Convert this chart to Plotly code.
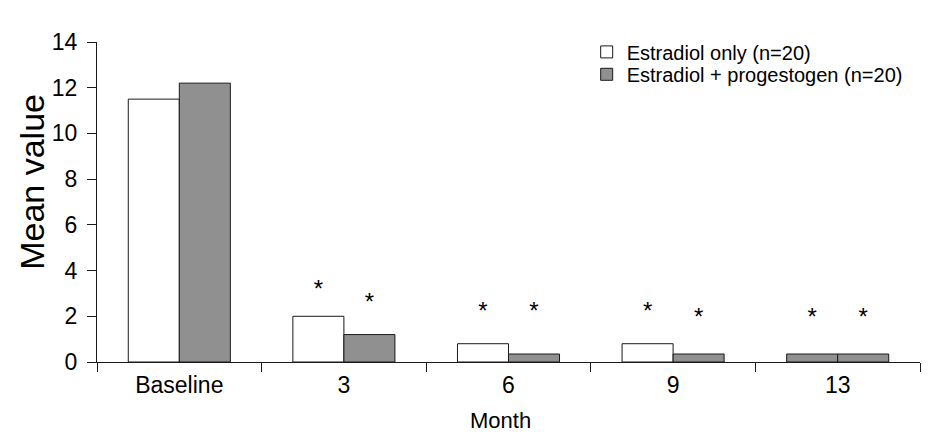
import plotly.graph_objects as go

months = ["Baseline", "3", "6", "9", "13"]
estradiol_only = [11.5, 2.0, 0.8, 0.8, 0.35]
estradiol_progestogen = [12.2, 1.2, 0.35, 0.35, 0.35]
star_y_only = [None, 3.09, 2.15, 2.15, 1.88]
star_y_prog = [None, 2.55, 2.15, 1.88, 1.88]
y_ticks = [0, 2, 4, 6, 8, 10, 12, 14]

FONT = "Liberation Sans, Arial, sans-serif"
GRAY = "#909090"
EDGE = "#1a1a1a"

white_colors = ["white"] * (len(months) - 1) + [GRAY]

fig = go.Figure()
fig.add_trace(go.Bar(
    x=months, y=estradiol_only, name="Estradiol only (n=20)",
    marker=dict(color=white_colors, line=dict(color=EDGE, width=1)),
    legend="legend",
))
fig.add_trace(go.Bar(
    x=months, y=estradiol_progestogen, name="Estradiol + progestogen (n=20)",
    marker=dict(color=GRAY, line=dict(color=EDGE, width=1)),
    legend="legend2",
))

half = (1 - 0.38) / 4
sx, sy = [], []
for i in range(len(months)):
    if star_y_only[i] is not None:
        sx.append(i - half); sy.append(star_y_only[i])
    if star_y_prog[i] is not None:
        sx.append(i + half); sy.append(star_y_prog[i])
fig.add_trace(go.Scatter(
    x=sx, y=sy, xaxis="x2", mode="text", text=["*"] * len(sx),
    textfont=dict(family=FONT, size=24, color="black"),
    showlegend=False, hoverinfo="skip",
))

legend_style = dict(xanchor="left", yanchor="top", font=dict(size=20, family=FONT),
                    bgcolor="rgba(0,0,0,0)")

fig.update_layout(
    width=923, height=439,
    margin=dict(l=89, r=11, t=34, b=85),
    paper_bgcolor="white", plot_bgcolor="white",
    barmode="group", bargap=0.38, bargroupgap=0,
    font=dict(family=FONT, color="black"),
    xaxis=dict(
        type="category", showgrid=False, showline=True, linecolor=EDGE, linewidth=1,
        ticks="outside", tickson="boundaries", ticklen=9, tickcolor=EDGE,
        tickfont=dict(size=23, family=FONT), ticklabelstandoff=2,
    ),
    xaxis2=dict(
        overlaying="x", range=[-0.5, len(months) - 0.5], visible=False,
    ),
    yaxis=dict(
        range=[0, 14], tickvals=y_ticks, showgrid=False, zeroline=False,
        showline=True, linecolor=EDGE, linewidth=1,
        ticks="outside", ticklen=9, tickcolor=EDGE,
        tickfont=dict(size=23, family=FONT), ticklabelstandoff=5,
    ),
    legend=dict(x=0.595, y=1.03, **legend_style),
    legend2=dict(x=0.595, y=0.96, **legend_style),
    annotations=[
        dict(text="Mean value", textangle=-90, xref="paper", yref="paper",
             x=-0.079, y=0.563, xanchor="center", yanchor="middle",
             showarrow=False, font=dict(size=34, family=FONT)),
        dict(text="Month", xref="paper", yref="paper",
             x=0.49, y=-0.184, xanchor="center", yanchor="middle",
             showarrow=False, font=dict(size=22, family=FONT)),
    ],
)

fig.write_html("out.html")
